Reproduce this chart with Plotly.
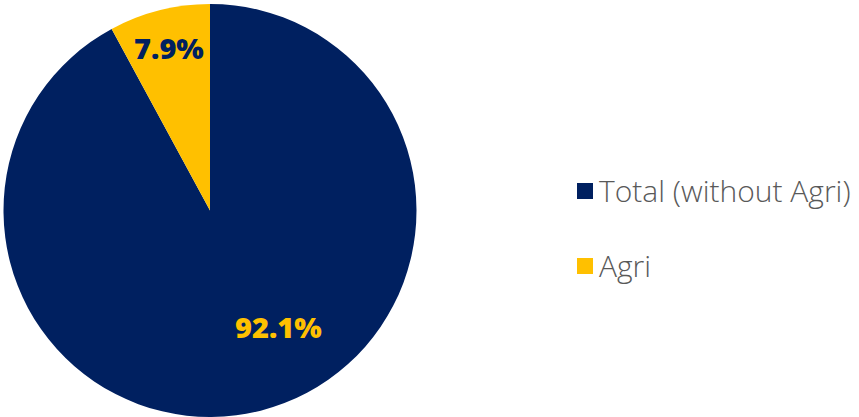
import plotly.graph_objects as go

# Share of total by sector
categories = ["Total (without Agri)", "Agri"]
shares = [92.1, 7.9]
colors = ["#002060", "#FFC000"]
label_colors = ["#FFC000", "#002060"]

W, H = 859, 417

fig = go.Figure(
    go.Pie(
        labels=categories,
        values=shares,
        marker=dict(colors=colors, line=dict(width=0)),
        direction="clockwise",
        rotation=0,
        sort=False,
        textinfo="none",
        hoverinfo="label+percent",
        showlegend=False,
        domain=dict(x=[3 / W, 417 / W], y=[0, 413 / H]),
    )
)

# Data labels, placed in paper pixels
label_pos = [(278.5, 326), (169, 48)]
for val, col, (px, py) in zip(shares, label_colors, label_pos):
    fig.add_annotation(
        x=px / W, y=1 - py / H, xref="paper", yref="paper",
        text=f"{val:.1f}%", showarrow=False,
        font=dict(family="Open Sans", size=29, color=col, weight=800),
        xanchor="center", yanchor="middle",
    )

# Legend: swatch + label, one row per category
legend_rows = [190, 265]
for name, col, ry in zip(categories, colors, legend_rows):
    fig.add_shape(
        type="rect", xref="paper", yref="paper",
        x0=577 / W, x1=593 / W, y0=1 - (ry + 9) / H, y1=1 - (ry - 7) / H,
        fillcolor=col, line=dict(width=0),
    )
    fig.add_annotation(
        x=597 / W, y=1 - ry / H, xref="paper", yref="paper",
        text=name, showarrow=False,
        font=dict(family="Open Sans", size=30, color="#595959", weight=300),
        xanchor="left", yanchor="middle",
    )

fig.update_layout(
    width=W, height=H,
    margin=dict(l=0, r=0, t=0, b=0),
    paper_bgcolor="white", plot_bgcolor="white",
)

fig.write_html("out.html")
